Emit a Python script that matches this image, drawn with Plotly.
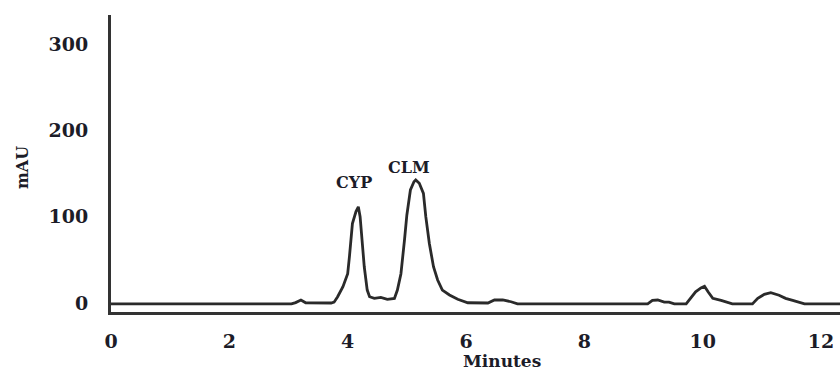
import plotly.graph_objects as go

# Chromatogram trace (minutes, mAU)
times = [0.00, 3.05, 3.12, 3.21, 3.29, 3.72, 3.77, 3.83, 3.92, 4.00, 4.03, 4.08, 4.14, 4.18,
         4.21, 4.24, 4.28, 4.33, 4.37, 4.45, 4.56, 4.67, 4.79, 4.84, 4.90, 4.96, 5.00,
         5.06, 5.12, 5.15, 5.21, 5.28, 5.32, 5.38, 5.45, 5.52, 5.60, 5.72, 5.86, 6.03,
         6.37, 6.48, 6.62, 6.76, 6.87, 9.07, 9.15, 9.24, 9.35, 9.43, 9.52, 9.72, 9.80,
         9.88, 9.97, 10.03, 10.09, 10.17, 10.31, 10.42, 10.50, 10.84, 10.93, 11.04,
         11.15, 11.29, 11.40, 11.52, 11.66, 11.72, 12.34]
mau = [-1.0, -1.0, 0.5, 3.5, 0.3, 0.0, 1.0, 7.3, 19.0, 34.0, 54.0, 92.0, 106.0, 111.5,
       100.0, 77.0, 42.0, 15.0, 7.3, 5.4, 6.6, 4.3, 5.4, 15.0, 34.0, 73.0, 102.0,
       131.0, 140.5, 142.5, 138.7, 127.0, 100.0, 69.0, 42.0, 26.7, 15.0, 9.3, 4.3, 0.3,
       0.0, 3.5, 3.5, 1.5, -1.0, -1.0, 3.0, 3.5, 1.0, 1.0, -1.0, -1.0, 5.4,
       13.0, 17.5, 19.5, 13.0, 5.4, 3.0, 1.0, -1.0, -1.0, 5.4, 10.0,
       12.0, 9.0, 5.4, 3.0, 0.5, -1.0, -1.0]

x_ticks = [0, 2, 4, 6, 8, 10, 12]
y_ticks = [0, 100, 200, 300]
peak_labels = ["CYP", "CLM"]
peak_windows = [(3.8, 4.5), (4.8, 5.6)]

FONT = "DejaVu Serif"
TXT = "#1c1c28"
LINE = "#2a2a2a"

fig = go.Figure()
fig.add_trace(go.Scatter(x=times, y=mau, mode="lines",
                         line=dict(color=LINE, width=2.8), hoverinfo="skip"))

# peak annotations placed at the apex of each peak in the data
shifts = [(-4, 24), (-7, 13)]
for lab, (lo, hi), (dx, dy) in zip(peak_labels, peak_windows, shifts):
    idx = [i for i, t in enumerate(times) if lo <= t <= hi]
    k = max(idx, key=lambda i: mau[i])
    fig.add_annotation(x=times[k], y=mau[k], text=lab, showarrow=False,
                       xshift=dx, yshift=dy, xanchor="center", yanchor="middle",
                       font=dict(family=FONT, size=16, color=TXT, weight="bold"))

fig.add_annotation(x=0.537, y=-0.165, xref="paper", yref="paper", text="Minutes",
                   showarrow=False, xanchor="center", yanchor="middle",
                   font=dict(family=FONT, size=17, color=TXT, weight="bold"))
fig.add_annotation(x=-0.1205, y=0.485, xref="paper", yref="paper", text="mAU",
                   showarrow=False, textangle=-90, xanchor="center", yanchor="middle",
                   font=dict(family=FONT, size=16, color=TXT, weight="bold"))

fig.update_layout(
    width=840, height=370,
    margin=dict(l=111, r=0, t=15, b=58),
    paper_bgcolor="white", plot_bgcolor="white",
    showlegend=False,
    xaxis=dict(range=[0, 12.32], tickvals=x_ticks, ticks="", showgrid=False,
               zeroline=False, showline=True, linecolor="#333333", linewidth=3,
               ticklabelstandoff=10,
               tickfont=dict(family=FONT, size=19, color=TXT, weight="bold")),
    yaxis=dict(range=[-10.4, 333.7], tickvals=y_ticks, ticks="", showgrid=False,
               zeroline=False, showline=True, linecolor="#333333", linewidth=3,
               ticklabelstandoff=16,
               tickfont=dict(family=FONT, size=19, color=TXT, weight="bold")),
)

fig.write_html("out.html")
